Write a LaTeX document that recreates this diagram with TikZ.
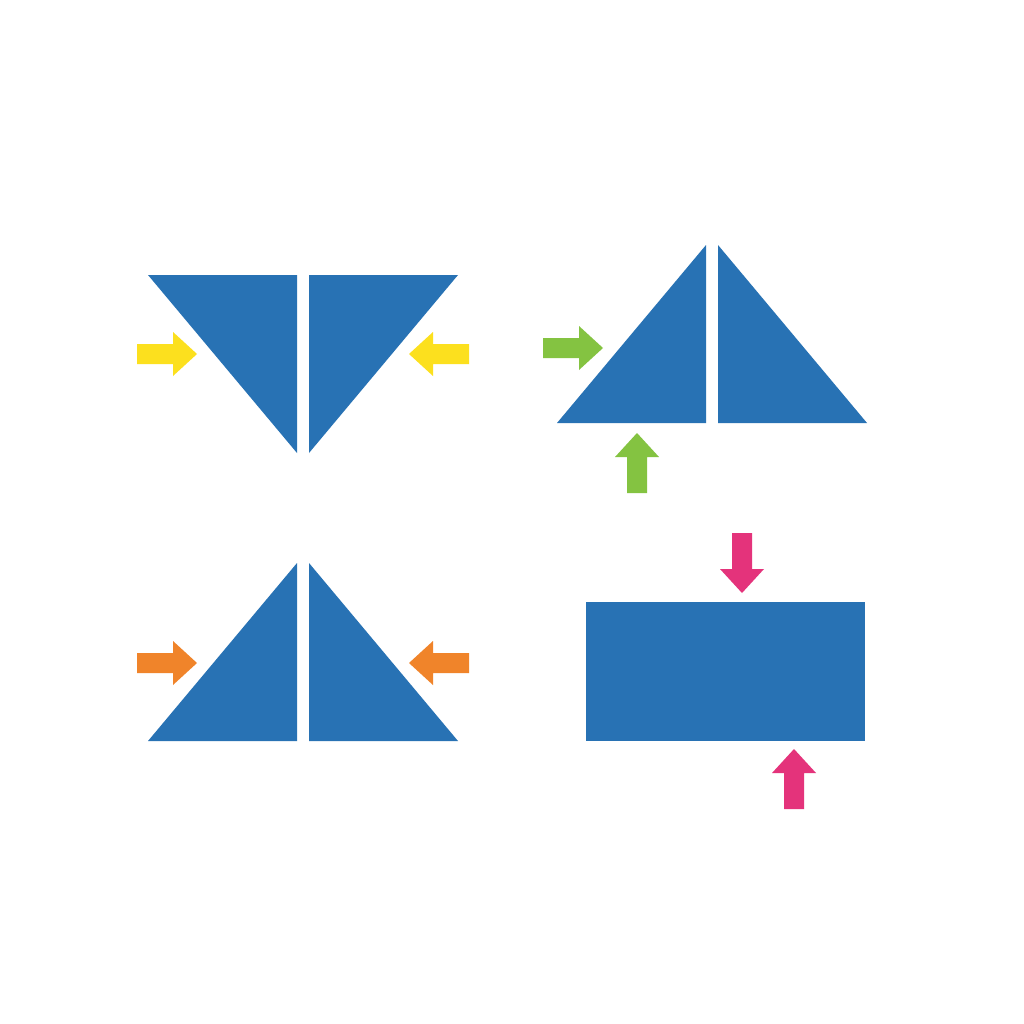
\documentclass[tikz,border=0pt]{standalone}
\definecolor{tblue}{HTML}{2872B4}
\definecolor{tyellow}{HTML}{FCE01E}
\definecolor{tgreen}{HTML}{84C341}
\definecolor{torange}{HTML}{F0842A}
\definecolor{tpink}{HTML}{E4337B}
\tikzset{
  piece/.style={fill=tblue, draw=none},
  pics/pusharrow/.style={code={
    \fill[#1] (0,0) -- (-24,22) -- (-24,10) -- (-60,10) -- (-60,-10) -- (-24,-10) -- (-24,-22) -- cycle;
  }}
}
\begin{document}
\begin{tikzpicture}[x=1pt,y=-1pt]
\fill[white] (0,0) rectangle (1024,1024);
\useasboundingbox (0,0) rectangle (1024,1024);
% top-left: inverted triangle halves
\fill[piece] (148,275) -- (297,275) -- (297,453) -- cycle;
\fill[piece] (309,275) -- (458,275) -- (309,453) -- cycle;
\pic at (197,354) {pusharrow=tyellow};
\pic[rotate=180] at (409,354) {pusharrow=tyellow};
% top-right: upright triangle halves
\fill[piece] (557,423) -- (706,245) -- (706,423) -- cycle;
\fill[piece] (718,245) -- (867,423) -- (718,423) -- cycle;
\pic at (603,348) {pusharrow=tgreen};
\pic[rotate=90] at (637,433) {pusharrow=tgreen};
% bottom-left: upright triangle halves
\fill[piece] (148,741) -- (297,563) -- (297,741) -- cycle;
\fill[piece] (309,563) -- (458,741) -- (309,741) -- cycle;
\pic at (197,663) {pusharrow=torange};
\pic[rotate=180] at (409,663) {pusharrow=torange};
% bottom-right: rectangle
\fill[piece] (586,602) rectangle (865,741);
\pic[rotate=-90] at (742,593) {pusharrow=tpink};
\pic[rotate=90] at (794,749) {pusharrow=tpink};
\end{tikzpicture}
\end{document}
